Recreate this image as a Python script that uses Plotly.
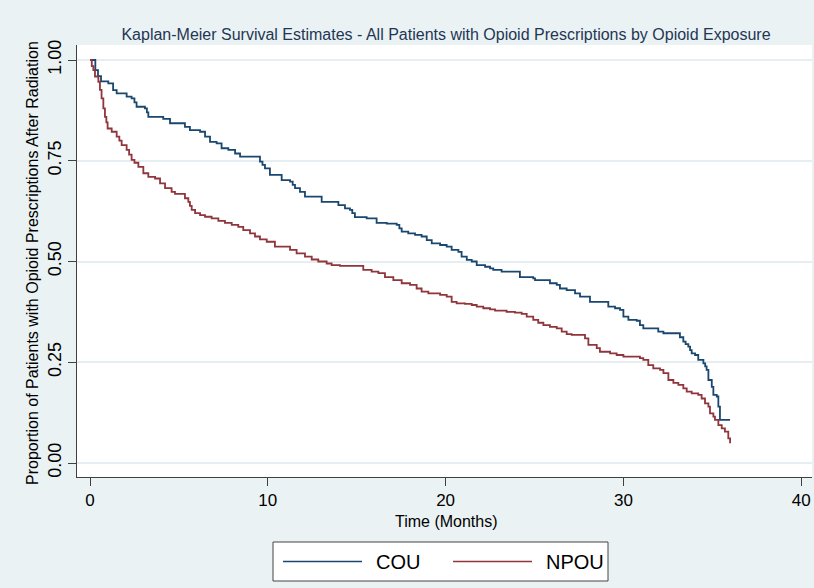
import plotly.graph_objects as go

# ---- Data ----
cou_time = [0, 0.3, 0.45, 0.62, 1.03, 1.3, 1.5, 2.06, 2.34, 2.5, 2.62, 3.09, 3.2, 3.28, 4.12, 4.5,
            5.34, 5.62, 6.19, 6.47, 6.75, 7.12, 7.4, 7.78, 8.16, 8.44, 9.56, 9.7, 9.84, 10.12,
            10.78, 11.25, 11.4, 11.53, 11.81, 12.09, 13.03, 13.97, 14.34, 14.62, 14.75, 14.9,
            15.56, 16.12, 16.69, 17.25, 17.4, 17.53, 17.9, 18.28, 18.65, 18.94, 19.22, 19.69,
            20.06, 20.34, 20.72, 20.9, 21.19, 21.47, 21.75, 22.22, 22.5, 22.68, 23.15, 24.18,
            24.93, 25.03, 25.87, 26.25, 26.43, 26.81, 27.28, 27.56, 28.12, 29.15, 29.53, 29.81,
            30.0, 30.28, 30.75, 30.93, 31.12, 31.96, 32.25, 33.18, 33.37, 33.5, 33.65, 33.75,
            33.84, 34.03, 34.21, 34.5, 34.6, 34.68, 34.78, 34.97, 35.06, 35.25, 35.34, 35.43, 36.0]
cou_surv = [1.0, 0.975, 0.96, 0.947, 0.942, 0.925, 0.917, 0.909, 0.905, 0.895, 0.884, 0.880, 0.870,
            0.859, 0.854, 0.843, 0.834, 0.826, 0.822, 0.810, 0.797, 0.793, 0.781, 0.777, 0.768,
            0.760, 0.748, 0.740, 0.731, 0.715, 0.702, 0.698, 0.690, 0.682, 0.673, 0.661, 0.648,
            0.640, 0.632, 0.628, 0.620, 0.610, 0.607, 0.596, 0.594, 0.591, 0.582, 0.574, 0.570,
            0.566, 0.562, 0.553, 0.545, 0.541, 0.537, 0.529, 0.524, 0.512, 0.504, 0.500, 0.491,
            0.487, 0.483, 0.479, 0.475, 0.461, 0.458, 0.454, 0.446, 0.442, 0.433, 0.429, 0.421,
            0.413, 0.400, 0.388, 0.384, 0.380, 0.363, 0.355, 0.353, 0.342, 0.334, 0.326, 0.322,
            0.312, 0.301, 0.295, 0.289, 0.280, 0.272, 0.268, 0.256, 0.247, 0.240, 0.231, 0.206,
            0.189, 0.169, 0.165, 0.140, 0.107, 0.107]

npou_time = [0, 0.1, 0.19, 0.28, 0.47, 0.56, 0.65, 0.75, 0.84, 0.92, 0.99, 1.22, 1.5, 1.65, 1.78,
             2.06, 2.2, 2.34, 2.5, 2.72, 3.0, 3.28, 3.66, 3.94, 4.22, 4.59, 4.78, 5.34, 5.53, 5.62,
             5.72, 5.91, 6.19, 6.47, 6.84, 7.22, 7.59, 7.97, 8.34, 8.62, 9.0, 9.28, 9.56, 9.94,
             10.4, 11.25, 11.62, 12.09, 12.47, 12.84, 13.31, 13.59, 14.06, 15.37, 15.84, 16.22,
             16.59, 17.06, 17.53, 18.0, 18.37, 18.65, 19.03, 19.69, 20.06, 20.34, 20.62, 21.09,
             21.47, 21.75, 22.12, 22.5, 22.78, 23.43, 23.9, 24.28, 24.56, 24.93, 25.21, 25.5,
             25.87, 26.25, 26.53, 26.81, 27.09, 27.84, 28.03, 28.5, 28.68, 29.25, 29.62, 30.0,
             30.93, 31.12, 31.4, 31.68, 32.06, 32.25, 32.53, 32.81, 33.09, 33.37, 33.56, 33.84,
             34.21, 34.4, 34.59, 34.78, 34.87, 35.06, 35.15, 35.34, 35.53, 35.71, 35.9, 36.0]
npou_surv = [1.0, 0.985, 0.975, 0.959, 0.946, 0.926, 0.905, 0.880, 0.859, 0.845, 0.830, 0.822,
             0.810, 0.800, 0.789, 0.777, 0.765, 0.752, 0.745, 0.735, 0.719, 0.710, 0.706, 0.694,
             0.682, 0.673, 0.668, 0.657, 0.648, 0.638, 0.628, 0.620, 0.615, 0.611, 0.607, 0.601,
             0.596, 0.591, 0.586, 0.578, 0.570, 0.562, 0.555, 0.549, 0.537, 0.529, 0.520, 0.512,
             0.505, 0.500, 0.495, 0.491, 0.489, 0.479, 0.475, 0.471, 0.461, 0.454, 0.446, 0.442,
             0.433, 0.425, 0.421, 0.417, 0.413, 0.400, 0.396, 0.395, 0.392, 0.388, 0.384, 0.381,
             0.378, 0.375, 0.373, 0.370, 0.363, 0.355, 0.348, 0.342, 0.338, 0.334, 0.326, 0.320,
             0.318, 0.309, 0.293, 0.285, 0.276, 0.272, 0.268, 0.264, 0.260, 0.256, 0.243, 0.235,
             0.231, 0.223, 0.206, 0.199, 0.194, 0.185, 0.177, 0.173, 0.169, 0.160, 0.148, 0.140,
             0.123, 0.115, 0.107, 0.094, 0.086, 0.078, 0.061, 0.049]

series_names = ["COU", "NPOU"]
x_ticks = [0, 10, 20, 30, 40]
y_ticks = [0.0, 0.25, 0.5, 0.75, 1.0]
y_tick_labels = ["0.00", "0.25", "0.50", "0.75", "1.00"]

title_text = "Kaplan-Meier Survival Estimates - All Patients with Opioid Prescriptions by Opioid Exposure"
x_title = "Time (Months)"
y_title = "Proportion of Patients with Opioid Prescriptions After Radiation"

COU_COLOR = "#1A476F"
NPOU_COLOR = "#90353B"
BG = "#EAF2F3"
FONT = "Liberation Sans, Arial, sans-serif"

W, H = 814, 588
L, R, T, B = 77, 2, 45, 111
PW, PH = W - L - R, H - T - B


def px(x):
    return (x - L) / PW


def py(y):
    return (H - B - y) / PH


fig = go.Figure()
fig.add_trace(go.Scatter(x=cou_time, y=cou_surv, mode="lines", line_shape="hv",
                         line=dict(color=COU_COLOR, width=1.8), name=series_names[0],
                         showlegend=False))
fig.add_trace(go.Scatter(x=npou_time, y=npou_surv, mode="lines", line_shape="hv",
                         line=dict(color=NPOU_COLOR, width=1.8), name=series_names[1],
                         showlegend=False))

# Manual legend (paper coordinates)
leg_y = py(561.5)
legend_shapes = [
    dict(type="rect", xref="paper", yref="paper", x0=px(273), x1=px(608), y0=py(581), y1=py(542),
         fillcolor="white", line=dict(color="#444444", width=1)),
    dict(type="line", xref="paper", yref="paper", x0=px(283), x1=px(362), y0=leg_y, y1=leg_y,
         line=dict(color=COU_COLOR, width=1.6)),
    dict(type="line", xref="paper", yref="paper", x0=px(453), x1=px(532), y0=leg_y, y1=leg_y,
         line=dict(color=NPOU_COLOR, width=1.6)),
]
annotations = [
    dict(text=series_names[0], xref="paper", yref="paper", x=px(374), y=leg_y,
         xanchor="left", yanchor="middle", showarrow=False,
         font=dict(family=FONT, size=20, color="black")),
    dict(text=series_names[1], xref="paper", yref="paper", x=px(544), y=leg_y,
         xanchor="left", yanchor="middle", showarrow=False,
         font=dict(family=FONT, size=20, color="black")),
    dict(text=y_title, xref="paper", yref="paper", x=px(32), y=py(263), textangle=-90,
         xanchor="center", yanchor="middle", showarrow=False,
         font=dict(family=FONT, size=16, color="black")),
    dict(text=x_title, xref="paper", yref="paper", x=px(446), y=py(521),
         xanchor="center", yanchor="middle", showarrow=False,
         font=dict(family=FONT, size=16, color="black")),
]

fig.update_layout(
    width=W, height=H,
    margin=dict(l=L, r=R, t=T, b=B),
    paper_bgcolor=BG, plot_bgcolor="white",
    title=dict(text=title_text, x=px(446), xref="paper", xanchor="center",
               y=1 - 34 / H, yref="container", yanchor="middle",
               font=dict(family=FONT, size=16, color="#1F3656")),
    shapes=legend_shapes,
    annotations=annotations,
    showlegend=False,
    xaxis=dict(range=[(L - 90) / 17.78, (W - R - 90) / 17.78], tickvals=x_ticks,
               showgrid=False, zeroline=False,
               showline=True, linecolor="#404040", linewidth=1,
               ticks="outside", ticklen=8, tickcolor="#404040", tickwidth=1,
               tickfont=dict(family=FONT, size=17, color="black")),
    yaxis=dict(range=[(463 - (H - B)) / 403, (463 - T) / 403], tickvals=y_ticks,
               ticktext=y_tick_labels,
               tickangle=-90, showgrid=True, gridcolor="#E6EEF1", gridwidth=1.5,
               zeroline=False, showline=True, linecolor="#404040", linewidth=1,
               ticks="outside", ticklen=8, tickcolor="#404040", tickwidth=1,
               tickfont=dict(family=FONT, size=18, color="black")),
)

fig.write_html("out.html", config={"displayModeBar": False},
               post_script="document.body.style.margin='0';")
